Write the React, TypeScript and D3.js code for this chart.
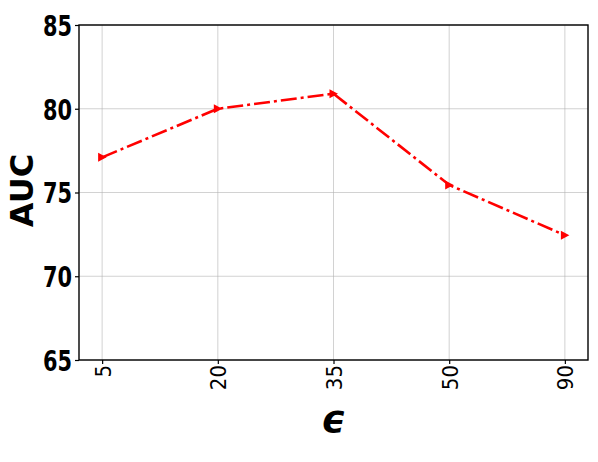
import React, { useRef, useEffect } from 'react';
import * as d3 from 'd3';

const categories = ['5', '20', '35', '50', '90'];
const aucValues = [77.1, 80.0, 80.9, 75.45, 72.45];
const yTicks = [65, 70, 75, 80, 85];

export default function App() {
  const ref = useRef<SVGSVGElement>(null);
  const width = 598;
  const height = 462;
  const left = 79;
  const right = 588;
  const top = 25;
  const bottom = 360;

  useEffect(() => {
    const svg = d3.select(ref.current);
    svg.selectAll('*').remove();

    const x = d3.scaleLinear().domain([-0.2, categories.length - 1 + 0.2]).range([left, right]);
    const y = d3.scaleLinear().domain([65, 85]).range([bottom, top]);

    // grid
    const grid = svg.append('g');
    grid.selectAll('line.gx')
      .data(categories)
      .join('line')
      .attr('x1', (d, i) => x(i)).attr('x2', (d, i) => x(i))
      .attr('y1', top).attr('y2', bottom)
      .attr('stroke', '#b0b0b0').attr('stroke-width', 0.8).attr('opacity', 0.7);
    grid.selectAll('line.gy')
      .data(yTicks)
      .join('line')
      .attr('x1', left).attr('x2', right)
      .attr('y1', d => y(d)).attr('y2', d => y(d))
      .attr('stroke', '#b0b0b0').attr('stroke-width', 0.8).attr('opacity', 0.7);

    // line
    const line = d3.line<number>().x((d, i) => x(i)).y(d => y(d));
    svg.append('path')
      .datum(aucValues)
      .attr('d', line)
      .attr('fill', 'none')
      .attr('stroke', '#ff0000')
      .attr('stroke-width', 2.6)
      .attr('stroke-dasharray', '16,4,3,4');

    // triangle markers
    svg.append('g')
      .selectAll('path')
      .data(aucValues)
      .join('path')
      .attr('d', 'M-4,-4.5L4.5,0L-4,4.5Z')
      .attr('transform', (d, i) => `translate(${x(i)},${y(d)})`)
      .attr('fill', '#ff0000');

    // frame
    svg.append('rect')
      .attr('x', left).attr('y', top)
      .attr('width', right - left).attr('height', bottom - top)
      .attr('fill', 'none').attr('stroke', '#000').attr('stroke-width', 1.4);

    // y axis (condensed bold look via horizontal scale)
    const yAxis = svg.append('g')
      .attr('transform', `translate(${left},0)`)
      .call(d3.axisLeft(y).tickValues(yTicks).tickSize(4).tickPadding(3));
    yAxis.select('.domain').remove();
    yAxis.selectAll('line').attr('stroke', '#000').attr('stroke-width', 1.2);
    yAxis.selectAll('text')
      .attr('fill', '#000')
      .style('font-family', '"DejaVu Sans"')
      .style('font-weight', 'bold')
      .style('font-size', '29px')
      .attr('x', -7 / 0.72)
      .attr('transform', function () {
        const t = d3.select(this.parentNode as Element).attr('transform');
        return 'scale(0.72,1)';
      })
      .attr('dy', '0.36em');

    // x axis
    const xAxis = svg.append('g')
      .attr('transform', `translate(0,${bottom})`)
      .call(d3.axisBottom(x).tickValues(d3.range(categories.length)).tickFormat((d) => categories[d as number]).tickSize(4));
    xAxis.select('.domain').remove();
    xAxis.selectAll('line').attr('stroke', '#000').attr('stroke-width', 1.2);
    xAxis.selectAll('text')
      .attr('fill', '#000')
      .style('font-family', '"DejaVu Sans"')
      .style('font-size', '22px')
      .attr('text-anchor', 'end')
      .attr('transform', 'translate(0,5) rotate(-90) scale(0.9,1)')
      .attr('x', 0)
      .attr('y', 0)
      .attr('dy', '0.36em');

    // labels
    svg.append('text')
      .attr('transform', `translate(33,${(top + bottom) / 2 - 2}) rotate(-90)`)
      .attr('text-anchor', 'middle')
      .style('font-family', '"DejaVu Sans"')
      .style('font-weight', 'bold')
      .style('font-size', '32px')
      .text('AUC');

    svg.append('text')
      .attr('x', (left + right) / 2)
      .attr('y', 432)
      .attr('text-anchor', 'middle')
      .style('font-family', '"DejaVu Sans"')
      .style('font-weight', 'bold')
      .style('font-style', 'italic')
      .style('font-size', '38px')
      .text('ϵ');
  }, []);

  return (
    <svg ref={ref} width={width} height={height} style={{ position: 'absolute', left: 0, top: 0, background: '#fff' }} />
  );
}
